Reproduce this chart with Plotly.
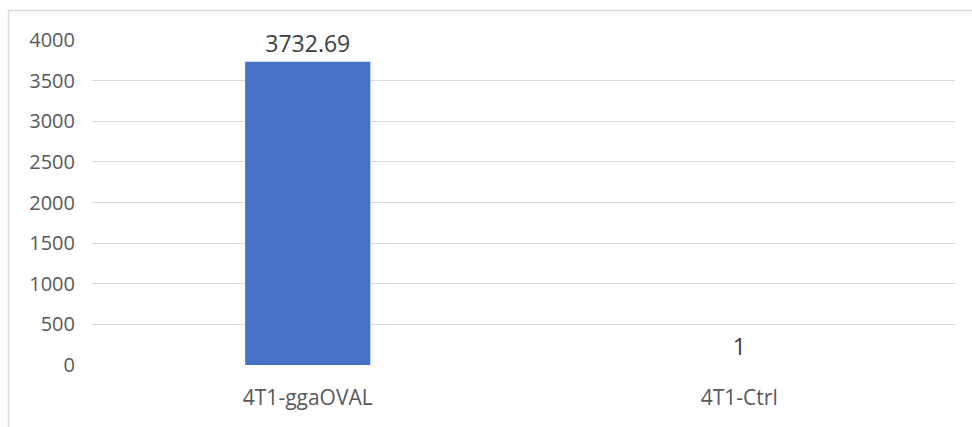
import plotly.graph_objects as go

categories = ["4T1-ggaOVAL", "4T1-Ctrl"]
values = [3732.69, 1]
y_ticks = [0, 500, 1000, 1500, 2000, 2500, 3000, 3500, 4000]

W, H = 972, 427
ml, mr, mt, mb = 92, 17, 40, 62
pw, ph = W - ml - mr, H - mt - mb

def px_to_paper_x(px):
    return (px - ml) / pw

def px_to_paper_y(py):
    return (H - mb - py) / ph

font_family = "Open Sans, Noto Sans, sans-serif"

fig = go.Figure()
fig.add_trace(go.Bar(
    x=categories,
    y=values,
    marker=dict(color="rgba(68,114,196,0.999)", line=dict(width=0)),
    width=0.29,
    text=[f"{v:g}" for v in values],
    textposition="outside",
    textfont=dict(family=font_family, size=23, color="#404040"),
    cliponaxis=False,
    hoverinfo="x+y",
))

fig.update_layout(
    width=W, height=H,
    margin=dict(l=ml, r=mr, t=mt, b=mb, pad=0),
    paper_bgcolor="white",
    plot_bgcolor="white",
    showlegend=False,
    font=dict(family=font_family, color="#595959"),
    xaxis=dict(
        showgrid=False, showline=False, zeroline=False,
        ticks="", tickfont=dict(size=21, color="#595959"),
        ticklabelstandoff=18,
    ),
    yaxis=dict(
        range=[0, 4000],
        tickvals=y_ticks,
        ticktext=[str(t) for t in y_ticks],
        showgrid=True, gridcolor="#d9d9d9", gridwidth=1.3,
        zeroline=False, showline=False, ticks="",
        tickfont=dict(size=20, color="#595959"),
        ticklabelstandoff=16,
    ),
    shapes=[
        dict(type="line", xref="paper", yref="paper",
             x0=px_to_paper_x(8.5), x1=px_to_paper_x(8.5),
             y0=px_to_paper_y(10.5), y1=px_to_paper_y(440),
             line=dict(color="#d9d9d9", width=1.5), layer="below"),
        dict(type="line", xref="paper", yref="paper",
             x0=px_to_paper_x(8.5), x1=px_to_paper_x(990),
             y0=px_to_paper_y(10.5), y1=px_to_paper_y(10.5),
             line=dict(color="#d9d9d9", width=1.5), layer="below"),
    ],
)

fig.write_html(
    "out.html",
    config={"displayModeBar": False},
    post_script="document.body.style.margin='0';document.body.style.overflow='hidden';",
)
